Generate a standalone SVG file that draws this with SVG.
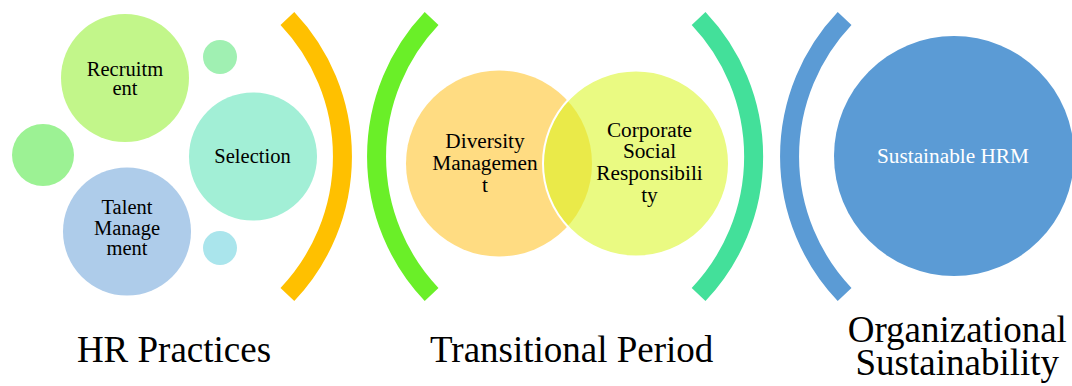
<svg xmlns="http://www.w3.org/2000/svg" width="1072" height="386" viewBox="0 0 1072 386">
<style>
  .s { font-size: 20.5px; }
  .m { font-size: 21.3px; }
  .big { font-size: 37px; }
  .arc { fill: none; stroke-width: 19; stroke-linecap: butt; }
</style>
<rect width="1072" height="386" fill="#fff"/>
<g id="connectors">
  <path class="arc" stroke="#FFC000" d="M287.4,18.5 A200.5,200.5 0 0 1 287.4,294.5"/>
  <path class="arc" stroke="#6AEF28" d="M431.6,18.5 A200.5,200.5 0 0 0 431.6,294.5"/>
  <path class="arc" stroke="#43E09A" d="M698.6,18.5 A200.5,200.5 0 0 1 698.6,294.5"/>
  <path class="arc" stroke="#5B9BD5" d="M844.6,18.5 A200.5,200.5 0 0 0 844.6,294.5"/>
</g>
<g font-family="'Liberation Serif', 'Times New Roman', Tinos, 'DejaVu Serif', serif" text-anchor="middle" fill="#000">
<g id="deco-small-top"><circle cx="220" cy="57" r="17" fill="#A0F0B2"/></g>
<g id="deco-left"><circle cx="43" cy="155" r="31" fill="#9CF294"/></g>
<g id="deco-small-bottom"><circle cx="220" cy="248" r="17" fill="#AAE5EC"/></g>
<g id="recruitment">
  <circle cx="125" cy="78" r="64" fill="#C2F68A"/>
  <text class="s" x="125" y="75.5">Recruitm</text>
  <text class="s" x="125" y="95">ent</text>
</g>
<g id="selection">
  <circle cx="253" cy="156.5" r="64" fill="#A2EFD6"/>
  <text class="s" x="252.5" y="163">Selection</text>
</g>
<g id="talent-management">
  <circle cx="127" cy="231.5" r="64" fill="#AECCEA"/>
  <text class="s" x="127" y="214">Talent</text>
  <text class="s" x="127" y="234.5">Manage</text>
  <text class="s" x="127" y="255">ment</text>
</g>
<g id="diversity-management">
  <circle cx="499" cy="163.5" r="93" fill="#FFBF1C" fill-opacity="0.55"/>
  <text class="m" x="485" y="148">Diversity</text>
  <text class="m" x="485" y="169.5">Managemen</text>
  <text class="m" x="485" y="191.5">t</text>
</g>
<g id="csr">
  <circle cx="636" cy="163.5" r="93" fill="#D9F61C" fill-opacity="0.55" stroke="#fff" stroke-width="2"/>
  <text class="m" x="649.5" y="136.5">Corporate</text>
  <text class="m" x="649.5" y="158.3">Social</text>
  <text class="m" x="649.5" y="180">Responsibili</text>
  <text class="m" x="649.5" y="201.7">ty</text>
</g>
<g id="sustainable-hrm">
  <circle cx="954" cy="156" r="120" fill="#5B9BD5"/>
  <text class="m" x="953" y="162.5" fill="#fff">Sustainable HRM</text>
</g>
<g id="labels">
  <text class="big" x="174" y="361.7">HR Practices</text>
  <text class="big" x="571.7" y="361.7">Transitional Period</text>
  <text class="big" x="957.3" y="341.7">Organizational</text>
  <text class="big" x="957.3" y="374.5">Sustainability</text>
</g>
</g>
</svg>
